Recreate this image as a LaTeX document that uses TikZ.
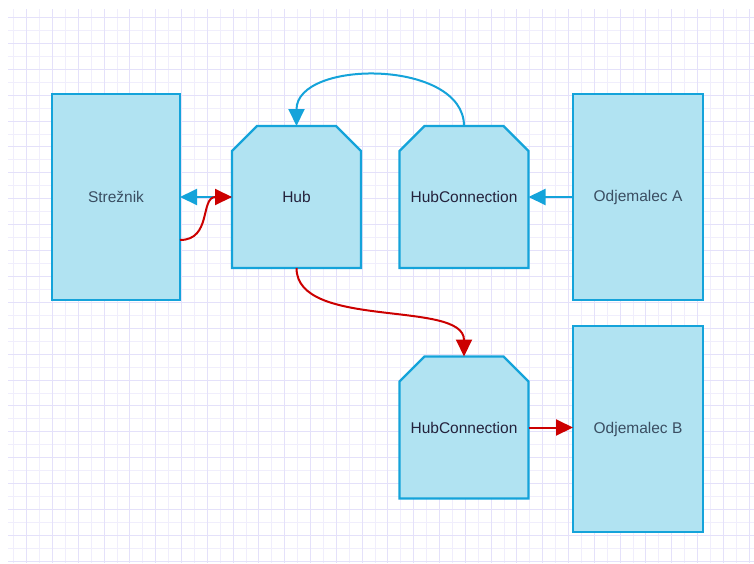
\documentclass[tikz,border=0pt]{standalone}
\usepackage{fontspec}
\setmainfont{Liberation Sans}
\usetikzlibrary{arrows.meta,calc}
\definecolor{boxfill}{RGB}{177,227,242}
\definecolor{boxline}{RGB}{20,163,218}
\definecolor{redline}{RGB}{204,0,0}
\definecolor{gridmajor}{RGB}{228,225,250}
\definecolor{gridminor}{RGB}{240,238,252}
\definecolor{txtA}{RGB}{58,78,98}
\definecolor{txtB}{RGB}{36,34,60}
\newcommand\chamferbox[5]{%
  \draw[boxshape] (#2-64.5,#3+71) -- (#2-64.5,#3-46) -- (#2-39.5,#3-71) -- (#2+39.5,#3-71) -- (#2+64.5,#3-46) -- (#2+64.5,#3+71) -- cycle;
  \node[plainbox,text=#5] (#1) at (#2,#3) {#4};}
\begin{document}
\begin{tikzpicture}[x=1pt,y=-1pt,
  font=\fontsize{15.5}{18}\selectfont,
  boxshape/.style={fill=boxfill,draw=boxline,line width=2.4pt},
  rectbox/.style={boxshape,outer sep=0pt,inner sep=0pt,minimum width=130,minimum height=206,text=txtA},
  plainbox/.style={outer sep=0pt,inner sep=0pt,minimum width=129,minimum height=142},
  bluearr/.style={draw=boxline,line width=2pt,-{Triangle[length=17pt,width=16pt]}},
  redarr/.style={draw=redline,line width=2pt,-{Triangle[length=17pt,width=16pt]}}]
\useasboundingbox (0,0) rectangle (754,563);
\fill[white] (0,0) rectangle (754,563);
\begin{scope}
  \clip (8,9) rectangle (754,563);
  \foreach \k in {0,...,58} {
    \pgfmathsetmacro\xx{0.9+12.9*\k}
    \pgfmathsetmacro\yy{4.5+12.95*\k}
    \draw[gridminor,line width=1pt] (\xx,0) -- (\xx,563);
    \draw[gridminor,line width=1pt] (0,\yy) -- (754,\yy);
  }
  \foreach \k in {0,...,29} {
    \pgfmathsetmacro\xx{0.9+25.8*\k}
    \pgfmathsetmacro\yy{17.4+25.9*\k}
    \draw[gridmajor,line width=1pt] (\xx,0) -- (\xx,563);
    \draw[gridmajor,line width=1pt] (0,\yy) -- (754,\yy);
  }
\end{scope}
\node[rectbox,minimum width=128] (srv) at (116,197) {Strežnik};
\node[rectbox] (oa) at (638,197) {Odjemalec A};
\node[rectbox] (ob) at (638,429) {Odjemalec B};
\chamferbox{hub}{296.5}{197}{Hub}{txtB}
\chamferbox{hca}{464}{197}{HubConnection}{txtB}
\chamferbox{hcb}{464}{427.5}{HubConnection}{txtB}
\draw[bluearr] (hub.west) -- (srv.east);
\draw[redarr] ($(srv.east)+(0,43)$) .. controls +(32,0) and +(-32,0) .. (hub.west);
\draw[bluearr] (hca.north) .. controls +(0,-67) and +(0,-67) .. (hub.north);
\draw[bluearr] (oa.west) -- (hca.east);
\draw[redarr] (hub.south) .. controls +(0,62) and +(0,-57) .. (hcb.north);
\draw[redarr] (hcb.east) -- (hcb.east -| ob.west);
\end{tikzpicture}
\end{document}
